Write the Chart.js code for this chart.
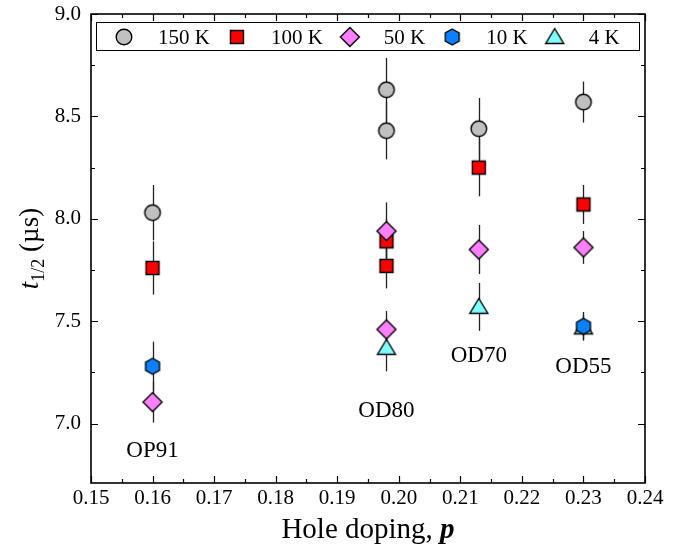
<!DOCTYPE html>
<html>
<head>
<meta charset="utf-8">
<script src="https://cdn.jsdelivr.net/npm/chart.js@4.4.0/dist/chart.umd.min.js"></script>
<style>
  html, body { margin: 0; padding: 0; background: #fff; }
</style>
</head>
<body>
<canvas id="tChart" width="689" height="557"></canvas>
<script>
// ---------------- values ---------------- //

var seriesNames = ["150 K", "100 K", "50 K", "10 K", "4 K"];

var p150 = [0.160, 0.198, 0.198, 0.213, 0.230];
var t150 = [8.03, 8.63, 8.43, 8.44, 8.57];
var e150 = [0.135, 0.155, 0.14, 0.15, 0.10];

var p100 = [0.160, 0.198, 0.198, 0.213, 0.230];
var t100 = [7.76, 7.89, 7.77, 8.25, 8.07];
var e100 = [0.13, 0.11, 0.11, 0.14, 0.095];

var p50 = [0.160, 0.198, 0.198, 0.213, 0.230];
var t50 = [7.105, 7.94, 7.46, 7.85, 7.86];
var e50 = [0.10, 0.14, 0.09, 0.12, 0.08];

var p10 = [0.160, 0.230];
var t10 = [7.28, 7.475];
var e10 = [0.12, 0.07];

var p4 = [0.198, 0.213, 0.230];
var t4 = [7.37, 7.57, 7.47];
var e4 = [0.115, 0.117, 0.06];

var xTicks = [0.15, 0.16, 0.17, 0.18, 0.19, 0.20, 0.21, 0.22, 0.23, 0.24];
var yTicks = [7.0, 7.5, 8.0, 8.5, 9.0];

var sampleNames = ["OP91", "OD80", "OD70", "OD55"];
var sampleP = [0.160, 0.198, 0.213, 0.230];
var sampleT = [6.865, 7.06, 7.33, 7.275];

// ---------------- marker images ---------------- //

function makeMarker(kind, fill) {
    var c = document.createElement('canvas');
    c.width = 24; c.height = 24;
    var g = c.getContext('2d');
    g.translate(12, 12);
    g.beginPath();
    if (kind === 'circle') {
        g.arc(0, 0, 7.8, 0, Math.PI * 2);
    } else if (kind === 'square') {
        g.rect(-6.5, -6.5, 13, 13);
    } else if (kind === 'diamond') {
        g.moveTo(0, -9.5); g.lineTo(9.5, 0); g.lineTo(0, 9.5); g.lineTo(-9.5, 0); g.closePath();
    } else if (kind === 'hexagon') {
        for (var k = 0; k < 6; k++) {
            var a = -Math.PI / 2 + k * Math.PI / 3;
            var px = 8 * Math.cos(a), py = 8 * Math.sin(a);
            if (k === 0) g.moveTo(px, py); else g.lineTo(px, py);
        }
        g.closePath();
    } else if (kind === 'triangle') {
        g.moveTo(0, -8.5); g.lineTo(9, 6.5); g.lineTo(-9, 6.5); g.closePath();
    }
    g.fillStyle = fill;
    g.fill();
    g.lineWidth = 1.4;
    g.strokeStyle = '#000';
    g.stroke();
    return c;
}

var markers = [
    makeMarker('circle', '#c0c0c0'),
    makeMarker('square', '#ff0000'),
    makeMarker('diamond', '#ff80ff'),
    makeMarker('hexagon', '#0a80ff'),
    makeMarker('triangle', '#80ffff')
];

function pts(xs, ys, es) {
    return xs.map(function (x, i) { return { x: x, y: ys[i], e: es[i] }; });
}

// lower order is drawn on top
var datasets = [
    { label: seriesNames[0], data: pts(p150, t150, e150), pointStyle: markers[0], order: 4 },
    { label: seriesNames[1], data: pts(p100, t100, e100), pointStyle: markers[1], order: 3 },
    { label: seriesNames[2], data: pts(p50, t50, e50), pointStyle: markers[2], order: 1 },
    { label: seriesNames[3], data: pts(p10, t10, e10), pointStyle: markers[3], order: 0 },
    { label: seriesNames[4], data: pts(p4, t4, e4), pointStyle: markers[4], order: 2 }
];

var serif = '"Liberation Serif", "Times New Roman", serif';

// ---------------- plugins ---------------- //

function drawFrame(chart) {
    var ctx = chart.ctx, a = chart.chartArea, xs = chart.scales.x, ys = chart.scales.y;
    ctx.save();
    ctx.strokeStyle = '#000';
    ctx.lineWidth = 1.6;
    ctx.strokeRect(a.left, a.top, a.right - a.left, a.bottom - a.top);
    ctx.lineWidth = 1.2;
    ctx.beginPath();
    xTicks.forEach(function (v, i) {
        var x = Math.round(xs.getPixelForValue(v)) + 0.5;
        ctx.moveTo(x, a.bottom); ctx.lineTo(x, a.bottom - 7);
        ctx.moveTo(x, a.top); ctx.lineTo(x, a.top + 7);
        if (i < xTicks.length - 1) {
            var xm = Math.round(xs.getPixelForValue((v + xTicks[i + 1]) / 2)) + 0.5;
            ctx.moveTo(xm, a.bottom); ctx.lineTo(xm, a.bottom - 4);
            ctx.moveTo(xm, a.top); ctx.lineTo(xm, a.top + 4);
        }
    });
    var yAll = [yTicks[0] - 0.25].concat(yTicks);
    yAll.forEach(function (v, i) {
        var y = Math.round(ys.getPixelForValue(v)) + 0.5;
        if (i > 0) {
            ctx.moveTo(a.left, y); ctx.lineTo(a.left + 7, y);
            ctx.moveTo(a.right, y); ctx.lineTo(a.right - 7, y);
        }
        if (i < yAll.length - 1) {
            var ym = Math.round(ys.getPixelForValue(v + 0.25)) + 0.5;
            ctx.moveTo(a.left, ym); ctx.lineTo(a.left + 4, ym);
            ctx.moveTo(a.right, ym); ctx.lineTo(a.right - 4, ym);
        }
    });
    ctx.stroke();
    ctx.restore();
}

var errorBars = {
    id: 'errorBars',
    beforeDatasetsDraw: function (chart) {
        var ctx = chart.ctx, xs = chart.scales.x, ys = chart.scales.y;
        drawFrame(chart);
        ctx.save();
        ctx.strokeStyle = '#222';
        ctx.lineWidth = 1.3;
        chart.data.datasets.forEach(function (ds) {
            ds.data.forEach(function (d) {
                var x = Math.round(xs.getPixelForValue(d.x)) + 0.5;
                ctx.beginPath();
                ctx.moveTo(x, ys.getPixelForValue(d.y + d.e));
                ctx.lineTo(x, ys.getPixelForValue(d.y - d.e));
                ctx.stroke();
            });
        });
        ctx.restore();
    }
};

var legendBox = {
    id: 'legendBox',
    afterDraw: function (chart) {
        var ctx = chart.ctx, a = chart.chartArea;
        ctx.save();
        ctx.strokeStyle = '#000';
        ctx.lineWidth = 1;
        ctx.fillStyle = '#fff';
        ctx.fillRect(a.left + 5.5, a.top + 8.5, 543, 28);
        ctx.strokeRect(a.left + 5.5, a.top + 8.5, 543, 28);
        ctx.font = '21px ' + serif;
        ctx.fillStyle = '#000';
        ctx.textBaseline = 'middle';
        var cx = a.left + 33, cy = a.top + 23;
        chart.data.datasets.forEach(function (ds) {
            ctx.drawImage(ds.pointStyle, cx - 12, cy - 12);
            var tx = cx + 34;
            ctx.fillText(ds.label, tx, cy + 1);
            cx = tx + ctx.measureText(ds.label).width + 27;
        });
        ctx.restore();
    }
};

var textLabels = {
    id: 'textLabels',
    afterDraw: function (chart) {
        var ctx = chart.ctx, a = chart.chartArea, xs = chart.scales.x, ys = chart.scales.y;
        ctx.save();
        ctx.fillStyle = '#000';
        ctx.textAlign = 'center';
        ctx.textBaseline = 'middle';
        ctx.font = '23px ' + serif;
        sampleNames.forEach(function (s, i) {
            ctx.fillText(s, xs.getPixelForValue(sampleP[i]), ys.getPixelForValue(sampleT[i]));
        });

        // x title: Hole doping, p
        ctx.textAlign = 'left';
        ctx.textBaseline = 'alphabetic';
        var f1 = '29px ' + serif, f2 = 'italic bold 29px ' + serif;
        var s1 = 'Hole doping, ', s2 = 'p';
        ctx.font = f1; var w1 = ctx.measureText(s1).width;
        ctx.font = f2; var w2 = ctx.measureText(s2).width;
        var x0 = (a.left + a.right) / 2 - (w1 + w2) / 2, yb = 538;
        ctx.font = f1; ctx.fillText(s1, x0, yb);
        ctx.font = f2; ctx.fillText(s2, x0 + w1, yb);

        // y title: t_1/2 (µs)
        ctx.translate(38, (a.top + a.bottom) / 2);
        ctx.rotate(-Math.PI / 2);
        var fa = 'italic 27px ' + serif, fb = '18px ' + serif, fc = '27px ' + serif;
        ctx.font = fa; var wa = ctx.measureText('t').width;
        ctx.font = fb; var wb = ctx.measureText('1/2').width;
        ctx.font = fc; var wc = ctx.measureText(' (\u00b5s)').width;
        var sx = -(wa + wb + wc) / 2;
        ctx.font = fa; ctx.fillText('t', sx, 0);
        ctx.font = fb; ctx.fillText('1/2', sx + wa, 6);
        ctx.font = fc; ctx.fillText(' (\u00b5s)', sx + wa + wb, 0);
        ctx.restore();
    }
};

// ---------------- chart ---------------- //

new Chart('tChart', {
    type: 'scatter',
    data: { datasets: datasets },
    options: {
        responsive: false,
        animation: false,
        events: [],
        layout: { padding: { left: 0, right: 44, top: 14, bottom: 0 } },
        plugins: {
            legend: { display: false },
            tooltip: { enabled: false }
        },
        scales: {
            x: {
                type: 'linear',
                min: 0.15,
                max: 0.24,
                grid: { display: false, drawTicks: false },
                border: { display: false },
                afterBuildTicks: function (s) { s.ticks = xTicks.map(function (v) { return { value: v }; }); },
                afterFit: function (s) { s.height = 74; s.paddingLeft = 0; s.paddingRight = 0; },
                ticks: {
                    color: '#000',
                    font: { family: serif, size: 21 },
                    padding: 3,
                    maxRotation: 0,
                    autoSkip: false,
                    callback: function (v) { return v.toFixed(2); }
                }
            },
            y: {
                min: 6.71,
                max: 9.0,
                grid: { display: false, drawTicks: false },
                border: { display: false },
                afterBuildTicks: function (s) { s.ticks = yTicks.map(function (v) { return { value: v }; }); },
                afterFit: function (s) { s.width = 91; s.paddingTop = 0; s.paddingBottom = 0; },
                ticks: {
                    color: '#000',
                    font: { family: serif, size: 21 },
                    padding: 10,
                    autoSkip: false,
                    callback: function (v) { return v.toFixed(1); }
                }
            }
        }
    },
    plugins: [errorBars, legendBox, textLabels]
});
</script>
</body>
</html>
